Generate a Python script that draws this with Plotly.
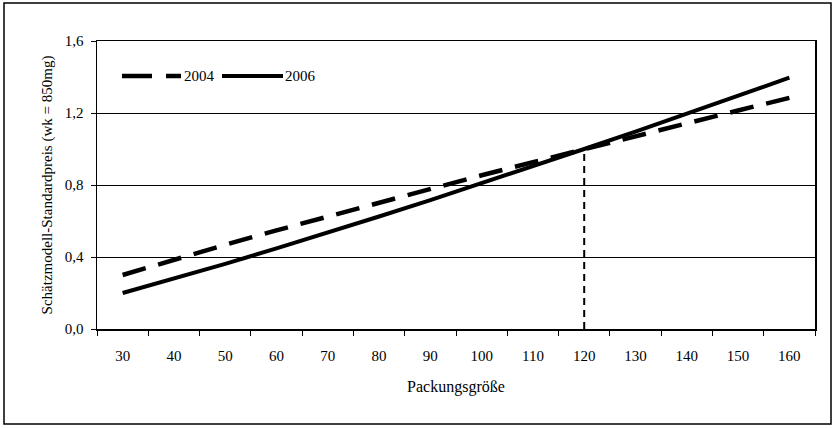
import plotly.graph_objects as go

categories = ["30", "40", "50", "60", "70", "80", "90", "100", "110", "120", "130", "140", "150", "160"]
series_2004 = [0.30, 0.385, 0.468, 0.548, 0.626, 0.703, 0.779, 0.854, 0.927, 1.00, 1.072, 1.143, 1.214, 1.284]
series_2006 = [0.20, 0.280, 0.362, 0.448, 0.535, 0.625, 0.716, 0.809, 0.904, 1.00, 1.097, 1.196, 1.295, 1.396]
marker_x = ["120", "120"]
marker_y = [0.0, 1.0]
y_ticks = [0.0, 0.4, 0.8, 1.2, 1.6]
series_names = ["2004", "2006"]

FONT = "Liberation Serif"
W, H = 835, 428
L, R, T, B = 97, 20, 41, 99
pw, ph = W - L - R, H - T - B

DASH_2004 = "24px,13px"

fig = go.Figure()
fig.add_trace(go.Scatter(x=categories, y=series_2004, mode="lines", name=series_names[0],
                         showlegend=False, hoverinfo="skip",
                         line=dict(color="black", width=4.5, dash=DASH_2004)))
fig.add_trace(go.Scatter(x=categories, y=series_2006, mode="lines", name=series_names[1],
                         showlegend=False, hoverinfo="skip",
                         line=dict(color="black", width=4)))
fig.add_trace(go.Scatter(x=marker_x, y=marker_y, mode="lines", showlegend=False, hoverinfo="skip",
                         line=dict(color="black", width=2, dash="7px,5px")))

def px(x):
    return (x - L) / pw

def py(y):
    return (H - B - y) / ph

# outer chart border
fig.add_shape(type="rect", xref="paper", yref="paper",
              x0=px(4), x1=px(831), y0=py(424), y1=py(3),
              line=dict(color="black", width=1.5), layer="below")

# legend (drawn manually to match the wide line samples)
leg_y = py(76)
fig.add_shape(type="line", xref="paper", yref="paper", x0=px(122), x1=px(181), y0=leg_y, y1=leg_y,
              line=dict(color="black", width=4.5, dash="30px,14px"))
fig.add_annotation(xref="paper", yref="paper", x=px(182), y=leg_y, text=series_names[0],
                   showarrow=False, xanchor="left", yanchor="middle",
                   font=dict(family=FONT, size=15, color="black"))
fig.add_shape(type="line", xref="paper", yref="paper", x0=px(222), x1=px(283), y0=leg_y, y1=leg_y,
              line=dict(color="black", width=4))
fig.add_annotation(xref="paper", yref="paper", x=px(283), y=leg_y, text=series_names[1],
                   showarrow=False, xanchor="left", yanchor="middle",
                   font=dict(family=FONT, size=15, color="black"))

fig.update_layout(
    width=W, height=H,
    margin=dict(l=L, r=R, t=T, b=B),
    paper_bgcolor="white", plot_bgcolor="white",
    separators=",.",
    font=dict(family=FONT, size=15, color="black"),
    showlegend=False,
    hovermode=False,
    xaxis=dict(type="category", categoryorder="array", categoryarray=categories,
               range=[-0.5, len(categories) - 0.5], tickson="boundaries",
               ticks="outside", ticklen=5, tickcolor="black", tickwidth=1,
               ticklabelstandoff=12,
               showgrid=False, showline=True, linecolor="black", linewidth=1.5, mirror=True,
               tickfont=dict(family=FONT, size=15),
               title=dict(text="Packungsgröße", font=dict(family=FONT, size=16), standoff=18)),
    yaxis=dict(range=[0, 1.6], tickvals=y_ticks, tickformat=".1f",
               ticks="outside", ticklen=5, tickcolor="black",
               ticklabelstandoff=4,
               showgrid=True, gridcolor="black", gridwidth=1,
               showline=True, linecolor="black", linewidth=1.5, mirror=True,
               zeroline=False,
               tickfont=dict(family=FONT, size=15),
               title=dict(text="Schätzmodell-Standardpreis (wk = 850mg)",
                          font=dict(family=FONT, size=15), standoff=8)),
)

fig.write_html("out.html", config={"displayModeBar": False, "staticPlot": True},
               post_script="document.body.style.margin='0';document.body.style.padding='0';")
